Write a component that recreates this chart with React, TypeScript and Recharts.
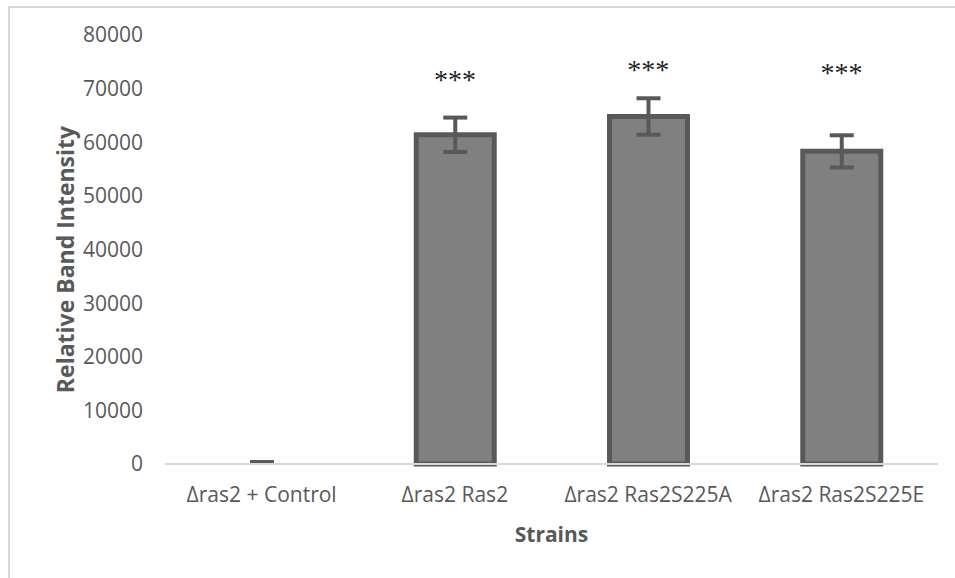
import { ComposedChart, Bar, ErrorBar, Scatter, XAxis, YAxis, Label, Cell } from "recharts";

const strains = ["Δras2 + Control", "Δras2 Ras2", "Δras2 Ras2S225A", "Δras2 Ras2S225E"];
const intensity = [300, 61400, 64800, 58300];
const errors = [60, 3200, 3400, 3000];
// where the "***" marks sit (in data units), null = no mark
const starLevel = [null, 72400, 74200, 73700];
const yTicks = [0, 10000, 20000, 30000, 40000, 50000, 60000, 70000, 80000];

const data = strains.map((s, i) => ({
  strain: s,
  value: intensity[i],
  err: errors[i],
  stars: starLevel[i],
}));

const tickStyle = { fontSize: 21, fill: "#595959", fontFamily: "'Open Sans', sans-serif" };

const Stars = (props: any) => {
  const { cx, cy } = props;
  if (cx == null || cy == null || props.payload?.stars == null) return <g />;
  return (
    <text x={cx} y={cy + 13} textAnchor="middle" fontSize={28} fill="#222" fontFamily="'Liberation Serif', serif">
      ***
    </text>
  );
};

export default function App() {
  return (
    <div style={{ position: "absolute", left: 0, top: 0, width: 955, height: 578, background: "#fff", overflow: "hidden" }}>
      <div style={{ position: "absolute", left: 8, top: 6, width: 960, height: 600, borderTop: "2px solid #d9d9d9", borderLeft: "2px solid #d9d9d9" }} />
      <div style={{ position: "absolute", left: 0, top: 0 }}>
        <ComposedChart width={955} height={578} data={data} margin={{ top: 35, right: 17, bottom: 84, left: 40 }}>
          <XAxis
            dataKey="strain"
            height={30}
            tick={tickStyle}
            tickLine={false}
            axisLine={{ stroke: "#d9d9d9", strokeWidth: 2 }}
            tickSize={0}
            tickMargin={23}
            interval={0}
          >
            <Label
              content={({ viewBox }: any) => (
                <text x={viewBox.x + viewBox.width / 2} y={542} textAnchor="middle" fontSize={21} fontWeight="bold" fill="#595959" fontFamily="'Open Sans', sans-serif">
                  Strains
                </text>
              )}
            />
          </XAxis>
          <YAxis
            width={125}
            domain={[0, 80000]}
            ticks={yTicks}
            tick={tickStyle}
            tickLine={false}
            axisLine={false}
            tickSize={0}
            tickMargin={22}
          >
            <Label
              content={({ viewBox }: any) => {
                const cx = 65;
                const cy = viewBox.y + viewBox.height / 2 + 10;
                return (
                  <text x={cx} y={cy} transform={`rotate(-90 ${cx} ${cy})`} textAnchor="middle" dominantBaseline="central" fontSize={23} fontWeight="bold" fill="#595959" fontFamily="'Open Sans', sans-serif">
                    Relative Band Intensity
                  </text>
                );
              }}
            />
          </YAxis>
          <Bar dataKey="value" fill="#808080" stroke="#595959" strokeWidth={5} barSize={78} isAnimationActive={false}>
            {data.map((d, i) => (
              <Cell key={i} fill={i === 0 ? "transparent" : "#808080"} stroke={i === 0 ? "none" : "#595959"} />
            ))}
            <ErrorBar dataKey="err" width={12} stroke="#595959" strokeWidth={4} isAnimationActive={false} />
          </Bar>
          <Scatter dataKey="stars" shape={<Stars />} isAnimationActive={false} />
        </ComposedChart>
      </div>
    </div>
  );
}
